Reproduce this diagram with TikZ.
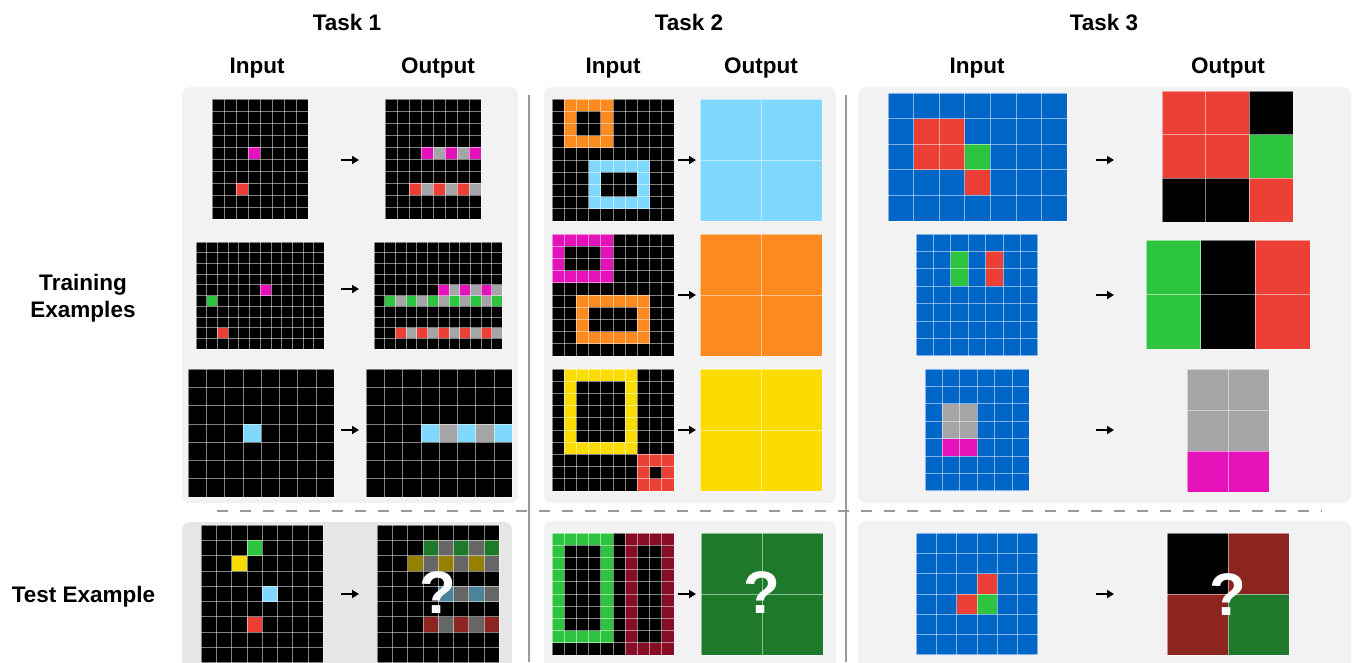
\documentclass[tikz,border=0pt]{standalone}
\usepackage{fontspec}
\setmainfont{Liberation Sans}
\usetikzlibrary{arrows.meta}
\definecolor{cK}{HTML}{000000}
\definecolor{cB}{HTML}{0067C9}
\definecolor{cR}{HTML}{EC3F35}
\definecolor{cG}{HTML}{2DC53F}
\definecolor{cY}{HTML}{FADC00}
\definecolor{cA}{HTML}{A5A4A6}
\definecolor{cM}{HTML}{E512B9}
\definecolor{cO}{HTML}{FD8A1E}
\definecolor{cL}{HTML}{80D8FE}
\definecolor{cW}{HTML}{870D27}
\definecolor{dG}{HTML}{1E7A2A}
\definecolor{dA}{HTML}{666666}
\definecolor{dY}{HTML}{958000}
\definecolor{dL}{HTML}{4C8399}
\definecolor{dR}{HTML}{8C2420}
\definecolor{panelA}{HTML}{F2F2F2}
\definecolor{panelB}{HTML}{E6E6E6}
\definecolor{sepc}{HTML}{999999}
\tikzset{
  gline/.style={white, opacity=0.5, line width=0.8pt},
  arr/.style={line width=1.8pt, -{Triangle[length=7pt,width=8pt]}},
  head/.style={font=\bfseries\fontsize{22.5}{27}\selectfont, anchor=base, inner sep=0pt},
  qmark/.style={font=\bfseries\fontsize{60}{60}\selectfont, text=white, inner sep=0pt},
  panel/.style={rounded corners=8pt},
}
\newcommand\gc[3]{\fill[#3] (#1,#2) rectangle ++(1,1);}
\newcommand\gb[5]{\fill[#5] (#1,#2) rectangle (#3+1,#4+1);}
\newcommand\grid[7]{\begin{scope}[shift={(#1,#2)},x=#3pt,y=-#3pt]
 \fill[#6] (0,0) rectangle (#4,#5);
 #7
 \foreach \i in {0,...,#4} {\draw[gline] (\i,0) -- (\i,#5);}
 \foreach \j in {0,...,#5} {\draw[gline] (0,\j) -- (#4,\j);}
\end{scope}}
\begin{document}
\begin{tikzpicture}[x=1pt,y=-1pt]
\useasboundingbox (0,0) rectangle (1354,662);
\clip (0,0) rectangle (1354,662);
% panels
\fill[panelA,panel] (182,87) rectangle (518,503);
\fill[panelB,panel] (182,522) rectangle (512,700);
\fill[panelA,panel] (544,87) rectangle (836,503);
\fill[panelA,panel] (544,521) rectangle (836,700);
\fill[panelA,panel] (858,87) rectangle (1351,503);
\fill[panelA,panel] (858,521) rectangle (1351,700);
% separators
\draw[sepc, line width=2pt] (529,95) -- (529,662);
\draw[sepc, line width=2pt] (846,95) -- (846,662);
\draw[sepc, line width=2.3pt, dash pattern=on 11pt off 12pt] (217,511) -- (1322,511);
% headers
\node[head] (t1) at (347,30) {Task 1};
\node[head] (t2) at (689,30) {Task 2};
\node[head] (t3) at (1104,30) {Task 3};
\node[head] (i1) at (257,73) {Input};
\node[head] (o1) at (438,73) {Output};
\node[head] (i2) at (613,73) {Input};
\node[head] (o2) at (761,73) {Output};
\node[head] (i3) at (977,73) {Input};
\node[head] (o3) at (1228,73) {Output};
\node[head] (tr1) at (83,290) {Training};
\node[head] (tr2) at (83,317) {Examples};
\node[head] (te) at (83.5,602) {Test Example};
% ---------- Task 1 ----------
\grid{212}{99}{12}{8}{10}{cK}{\gc{3}{4}{cM}\gc{2}{7}{cR}}
\grid{385}{99}{12}{8}{10}{cK}{\gc{3}{4}{cM}\gc{4}{4}{cA}\gc{5}{4}{cM}\gc{6}{4}{cA}\gc{7}{4}{cM}
  \gc{2}{7}{cR}\gc{3}{7}{cA}\gc{4}{7}{cR}\gc{5}{7}{cA}\gc{6}{7}{cR}\gc{7}{7}{cA}}
\grid{196}{242}{10.7}{12}{10}{cK}{\gc{6}{4}{cM}\gc{1}{5}{cG}\gc{2}{8}{cR}}
\grid{374}{242}{10.7}{12}{10}{cK}{%
  \foreach \c in {6,8,10} {\gc{\c}{4}{cM}} \foreach \c in {7,9,11} {\gc{\c}{4}{cA}}
  \foreach \c in {1,3,5,7,9,11} {\gc{\c}{5}{cG}} \foreach \c in {2,4,6,8,10} {\gc{\c}{5}{cA}}
  \foreach \c in {2,4,6,8,10} {\gc{\c}{8}{cR}} \foreach \c in {3,5,7,9,11} {\gc{\c}{8}{cA}}}
\grid{188}{369}{18.3}{8}{7}{cK}{\gc{3}{3}{cL}}
\grid{366}{369}{18.3}{8}{7}{cK}{\gc{3}{3}{cL}\gc{4}{3}{cA}\gc{5}{3}{cL}\gc{6}{3}{cA}\gc{7}{3}{cL}}
\grid{201}{525}{15.3}{8}{10}{cK}{\gc{3}{1}{cG}\gc{2}{2}{cY}\gc{4}{4}{cL}\gc{3}{6}{cR}}
\grid{377}{525}{15.3}{8}{10}{cK}{%
  \foreach \c in {3,5,7} {\gc{\c}{1}{dG}} \foreach \c in {4,6} {\gc{\c}{1}{dA}}
  \foreach \c in {2,4,6} {\gc{\c}{2}{dY}} \foreach \c in {3,5,7} {\gc{\c}{2}{dA}}
  \foreach \c in {4,6} {\gc{\c}{4}{dL}} \foreach \c in {5,7} {\gc{\c}{4}{dA}}
  \foreach \c in {3,5,7} {\gc{\c}{6}{dR}} \foreach \c in {4,6} {\gc{\c}{6}{dA}}}
\node[qmark] (q1) at (438,593) {?};
\draw[arr] (341,160) -- (359,160);
\draw[arr] (341,289) -- (359,289);
\draw[arr] (341,430) -- (359,430);
\draw[arr] (341,594) -- (359,594);
% ---------- Task 2 ----------
\grid{552}{99}{12.2}{10}{10}{cK}{\gb{1}{0}{4}{3}{cO}\gb{2}{1}{3}{2}{cK}\gb{3}{5}{7}{8}{cL}\gb{4}{6}{6}{7}{cK}}
\grid{700}{99}{61}{2}{2}{cL}{}
\grid{552}{234}{12.2}{10}{10}{cK}{\gb{0}{0}{4}{3}{cM}\gb{1}{1}{3}{2}{cK}\gb{2}{5}{7}{8}{cO}\gb{3}{6}{6}{7}{cK}}
\grid{700}{234}{61}{2}{2}{cO}{}
\grid{552}{369}{12.2}{10}{10}{cK}{\gb{1}{0}{6}{6}{cY}\gb{2}{1}{5}{5}{cK}\gb{7}{7}{9}{9}{cR}\gc{8}{8}{cK}}
\grid{700}{369}{61}{2}{2}{cY}{}
\grid{552}{533}{12.2}{10}{10}{cK}{\gb{0}{0}{4}{8}{cG}\gb{1}{1}{3}{7}{cK}\gb{6}{0}{9}{9}{cW}\gb{7}{1}{8}{8}{cK}}
\grid{701}{533}{61}{2}{2}{dG}{}
\node[qmark] (q2) at (762,593) {?};
\draw[arr] (678,160) -- (696,160);
\draw[arr] (678,295) -- (696,295);
\draw[arr] (678,430) -- (696,430);
\draw[arr] (678,594) -- (696,594);
% ---------- Task 3 ----------
\grid{888}{93}{25.6}{7}{5}{cB}{\gb{1}{1}{2}{2}{cR}\gc{3}{2}{cG}\gc{3}{3}{cR}}
\grid{1162}{91}{43.7}{3}{3}{cR}{\gc{2}{0}{cK}\gc{2}{1}{cG}\gc{0}{2}{cK}\gc{1}{2}{cK}}
\grid{916}{234}{17.4}{7}{7}{cB}{\gb{2}{1}{2}{2}{cG}\gb{4}{1}{4}{2}{cR}}
\grid{1146}{240}{54.7}{3}{2}{cK}{\gb{0}{0}{0}{1}{cG}\gb{2}{0}{2}{1}{cR}}
\grid{925}{369}{17.4}{6}{7}{cB}{\gb{1}{2}{2}{3}{cA}\gb{1}{4}{2}{4}{cM}}
\grid{1187}{369}{41}{2}{3}{cA}{\gb{0}{2}{1}{2}{cM}}
\grid{916}{533}{20.3}{6}{6}{cB}{\gc{3}{2}{cR}\gc{2}{3}{cR}\gc{3}{3}{cG}}
\grid{1167}{533}{61}{2}{2}{cK}{\gc{1}{0}{dR}\gc{0}{1}{dR}\gc{1}{1}{dG}}
\node[qmark] (q3) at (1228,595) {?};
\draw[arr] (1096,160) -- (1114,160);
\draw[arr] (1096,295) -- (1114,295);
\draw[arr] (1096,430) -- (1114,430);
\draw[arr] (1096,594) -- (1114,594);
\end{tikzpicture}
\end{document}
